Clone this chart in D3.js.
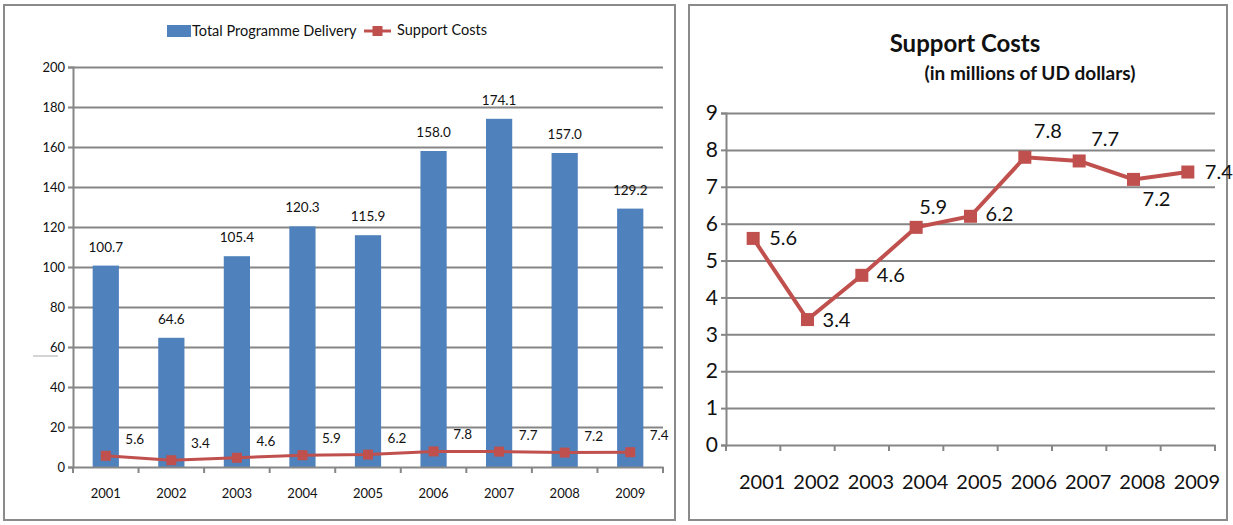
<!DOCTYPE html>
<html>
<head>
<meta charset="utf-8">
<script src="https://cdn.jsdelivr.net/npm/d3@7"></script>
<style>
  body { margin: 0; background: #fff; }
  svg { display: block; font-family: Lato, "Open Sans", sans-serif; }
</style>
</head>
<body>
<svg id="chart" width="1233" height="525"></svg>
<script>
// data
var years = ["2001", "2002", "2003", "2004", "2005", "2006", "2007", "2008", "2009"]
var programmeDelivery = [100.7, 64.6, 105.4, 120.3, 115.9, 158.0, 174.1, 157.0, 129.2]
var supportCosts = [5.6, 3.4, 4.6, 5.9, 6.2, 7.8, 7.7, 7.2, 7.4]
var leftTicks = [0, 20, 40, 60, 80, 100, 120, 140, 160, 180, 200]
var rightTicks = [0, 1, 2, 3, 4, 5, 6, 7, 8, 9]

// label placement (center offsets) for the right chart
var rightLabelOffsets = [[30, 0], [29, 0], [29, 0], [17, -20], [29, -2], [23, -26], [26, -22], [23, 20], [31, 0]]

var blue = "#4f81bd"
var red = "#c0504d"
var grid = "#868686"

var svg = d3.select("#chart")

// panels
svg.append("rect").attr("x", 4).attr("y", 5).attr("width", 671).attr("height", 515)
   .attr("fill", "none").attr("stroke", "#8a8a8a").attr("stroke-width", 2)
svg.append("rect").attr("x", 689).attr("y", 5).attr("width", 538).attr("height", 515)
   .attr("fill", "none").attr("stroke", "#8a8a8a").attr("stroke-width", 2)

/* ---------- left chart ---------- */
var L = { left: 73, right: 663, top: 67, bottom: 467 }

var yL = d3.scaleLinear().domain([0, 200]).range([L.bottom, L.top])
var xL = d3.scaleBand().domain(years).range([L.left, L.right])
var xBar = d3.scaleBand().domain(years).range([L.left, L.right]).paddingInner(0.6).paddingOuter(0.3)

var gL = svg.append("g")

// gridlines
gL.append("g")
  .attr("transform", `translate(${L.left},0)`)
  .call(d3.axisLeft(yL).tickValues(leftTicks.slice(1)).tickSize(-(L.right - L.left)).tickFormat(""))
  .call(g => g.select(".domain").remove())
  .call(g => g.selectAll("line").attr("stroke", grid).attr("stroke-width", 2))

// bars
gL.append("g").selectAll("rect")
  .data(programmeDelivery)
  .enter().append("rect")
  .attr("x", (d, i) => xBar(years[i]))
  .attr("y", d => yL(d))
  .attr("width", xBar.bandwidth())
  .attr("height", d => yL(0) - yL(d))
  .attr("fill", blue)

gL.append("g").selectAll("text")
  .data(programmeDelivery)
  .enter().append("text")
  .attr("x", (d, i) => xBar(years[i]) + xBar.bandwidth() / 2)
  .attr("y", d => yL(d) - 14)
  .attr("text-anchor", "middle")
  .attr("font-size", 13.5)
  .attr("fill", "#111")
  .text(d => d.toFixed(1))

// y axis
gL.append("g")
  .attr("transform", `translate(${L.left},0)`)
  .call(d3.axisLeft(yL).tickValues(leftTicks).tickSize(5).tickPadding(3))
  .call(g => g.select(".domain").attr("stroke", grid).attr("stroke-width", 2))
  .call(g => g.selectAll("line").attr("stroke", grid).attr("stroke-width", 2))
  .call(g => g.selectAll("text").attr("font-size", 13).attr("fill", "#111").attr("font-family", "Lato"))

// x axis
var xAxisL = gL.append("g")
  .attr("transform", `translate(0,${L.bottom})`)
  .call(d3.axisBottom(xL).tickSize(0).tickPadding(22))
  .call(g => g.select(".domain").attr("stroke", grid).attr("stroke-width", 2))
  .call(g => g.selectAll("text").attr("font-size", 13).attr("fill", "#111").attr("font-family", "Lato"))
xAxisL.append("g").selectAll("line")
  .data(years.concat(["end"]))
  .enter().append("line")
  .attr("x1", d => d === "end" ? L.right : xL(d))
  .attr("x2", d => d === "end" ? L.right : xL(d))
  .attr("y1", 0).attr("y2", 6)
  .attr("stroke", grid).attr("stroke-width", 2)

// support costs line
var lineL = d3.line()
  .x((d, i) => xL(years[i]) + xL.bandwidth() / 2)
  .y(d => yL(d))

gL.append("path")
  .datum(supportCosts)
  .attr("d", lineL)
  .attr("fill", "none")
  .attr("stroke", red)
  .attr("stroke-width", 3)

gL.append("g").selectAll("rect")
  .data(supportCosts)
  .enter().append("rect")
  .attr("x", (d, i) => xL(years[i]) + xL.bandwidth() / 2 - 5)
  .attr("y", d => yL(d) - 5)
  .attr("width", 10).attr("height", 10)
  .attr("fill", red)

gL.append("g").selectAll("text")
  .data(supportCosts)
  .enter().append("text")
  .attr("x", (d, i) => xL(years[i]) + xL.bandwidth() / 2 + 29)
  .attr("y", d => yL(d) - 12)
  .attr("text-anchor", "middle")
  .attr("font-size", 13.5)
  .attr("fill", "#111")
  .text(d => d.toFixed(1))

// stray mark near the axis
gL.append("line").attr("x1", 33).attr("x2", 58).attr("y1", 356).attr("y2", 356)
  .attr("stroke", "#aaa").attr("stroke-width", 1)

// legend
var legend = gL.append("g").attr("font-size", 14.5).attr("fill", "#111")
legend.append("rect").attr("x", 167).attr("y", 25).attr("width", 24).attr("height", 12).attr("fill", blue)
legend.append("text").attr("x", 192).attr("y", 36).text("Total Programme Delivery")
legend.append("line").attr("x1", 364).attr("x2", 391).attr("y1", 31).attr("y2", 31)
  .attr("stroke", red).attr("stroke-width", 3)
legend.append("rect").attr("x", 372.5).attr("y", 26).attr("width", 10).attr("height", 10).attr("fill", red)
legend.append("text").attr("x", 397).attr("y", 35).text("Support Costs")

/* ---------- right chart ---------- */
var R = { left: 726, right: 1215, top: 113, bottom: 445 }

var yR = d3.scaleLinear().domain([0, 9]).range([R.bottom, R.top])
var xR = d3.scaleBand().domain(years).range([R.left, R.right])

var gR = svg.append("g")

gR.append("text").attr("x", 965).attr("y", 52).attr("text-anchor", "middle")
  .attr("font-size", 24).attr("font-weight", "bold").attr("fill", "#111").text("Support Costs")
gR.append("text").attr("x", 1030).attr("y", 80).attr("text-anchor", "middle")
  .attr("font-size", 19).attr("font-weight", "bold").attr("fill", "#111").text("(in millions of UD dollars)")

gR.append("g")
  .attr("transform", `translate(${R.left},0)`)
  .call(d3.axisLeft(yR).tickValues(rightTicks.slice(1)).tickSize(-(R.right - R.left)).tickFormat(""))
  .call(g => g.select(".domain").remove())
  .call(g => g.selectAll("line").attr("stroke", grid).attr("stroke-width", 2))

gR.append("g")
  .attr("transform", `translate(${R.left},0)`)
  .call(d3.axisLeft(yR).tickValues(rightTicks).tickSize(5).tickPadding(3))
  .call(g => g.select(".domain").attr("stroke", grid).attr("stroke-width", 2))
  .call(g => g.selectAll("line").attr("stroke", grid).attr("stroke-width", 2))
  .call(g => g.selectAll("text").attr("font-size", 21).attr("fill", "#111").attr("font-family", "Lato"))

var xAxisR = gR.append("g")
  .attr("transform", `translate(0,${R.bottom})`)
  .call(d3.axisBottom(xR).tickSize(0).tickPadding(30))
  .call(g => g.select(".domain").attr("stroke", grid).attr("stroke-width", 2))
  .call(g => g.selectAll("text").attr("font-size", 20).attr("fill", "#111").attr("font-family", "Lato").attr("dx", 9))
xAxisR.append("g").selectAll("line")
  .data(years.concat(["end"]))
  .enter().append("line")
  .attr("x1", d => d === "end" ? R.right : xR(d))
  .attr("x2", d => d === "end" ? R.right : xR(d))
  .attr("y1", 0).attr("y2", 6)
  .attr("stroke", grid).attr("stroke-width", 2)

var lineR = d3.line()
  .x((d, i) => xR(years[i]) + xR.bandwidth() / 2)
  .y(d => yR(d))

gR.append("path")
  .datum(supportCosts)
  .attr("d", lineR)
  .attr("fill", "none")
  .attr("stroke", red)
  .attr("stroke-width", 4)

gR.append("g").selectAll("rect")
  .data(supportCosts)
  .enter().append("rect")
  .attr("x", (d, i) => xR(years[i]) + xR.bandwidth() / 2 - 6.5)
  .attr("y", d => yR(d) - 6.5)
  .attr("width", 13).attr("height", 13)
  .attr("fill", red)

gR.append("g").selectAll("text")
  .data(supportCosts)
  .enter().append("text")
  .attr("x", (d, i) => xR(years[i]) + xR.bandwidth() / 2 + rightLabelOffsets[i][0])
  .attr("y", (d, i) => yR(d) + rightLabelOffsets[i][1])
  .attr("dy", "0.35em")
  .attr("text-anchor", "middle")
  .attr("font-size", 20)
  .attr("fill", "#111")
  .text(d => d.toFixed(1))
</script>
</body>
</html>
